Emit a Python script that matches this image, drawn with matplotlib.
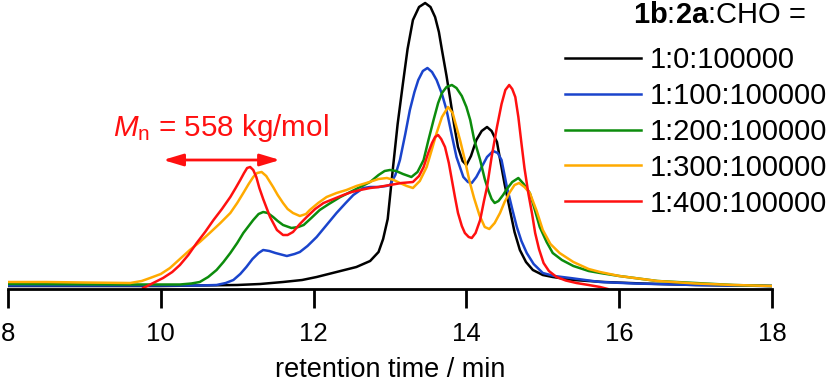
import matplotlib
matplotlib.use('Agg')
import matplotlib.pyplot as plt

plt.rcParams['font.family'] = ['Liberation Sans', 'DejaVu Sans']
plt.rcParams['mathtext.fontset'] = 'custom'
plt.rcParams['mathtext.rm'] = 'Liberation Sans'
plt.rcParams['mathtext.it'] = 'Liberation Sans:italic'
plt.rcParams['mathtext.bf'] = 'Liberation Sans:bold'

# GPC traces (intensity in arbitrary units)
labels = ['1:0:100000', '1:100:100000', '1:200:100000', '1:300:100000', '1:400:100000']
colors = ['#000000', '#1a44cc', '#0c8c0c', '#ffaa00', '#ff1010']

t_0 = [8.0, 9.0, 10.0, 10.5, 11.0, 11.3, 11.6, 11.85, 12.04, 12.3, 12.56, 12.74, 12.85, 12.91,
       12.97, 13.04, 13.1, 13.17, 13.23, 13.3, 13.38, 13.46, 13.53, 13.59, 13.64, 13.68, 13.74,
       13.79, 13.84, 13.89, 13.95, 14.0, 14.06, 14.13, 14.2, 14.27, 14.33, 14.4, 14.44, 14.5,
       14.57, 14.63, 14.7, 14.78, 14.87, 15.0, 15.13, 15.4, 15.8, 16.3, 17.0, 18.0]
i_0 = [3, 3, 3, 3.5, 4, 5, 7, 9, 12, 17, 22, 28, 37, 50,
       70, 122, 165, 206, 240, 269, 282, 286, 282, 272, 257, 239, 213,
       189, 164, 142, 128, 124, 133, 149, 158, 162, 158, 147, 130, 105,
       79, 57, 39, 27, 19, 14, 12, 9, 7, 5.5, 4, 3]

t_100 = [8.0, 9.5, 10.5, 10.73, 10.85, 10.95, 11.04, 11.12, 11.2, 11.28, 11.34, 11.42, 11.5,
         11.65, 11.75, 11.82, 11.92, 12.04, 12.17, 12.3, 12.42, 12.52, 12.65, 12.74, 12.85,
         12.95, 13.0, 13.07, 13.13, 13.2, 13.26, 13.32, 13.37, 13.43, 13.49, 13.55, 13.61,
         13.68, 13.74, 13.8, 13.87, 13.96, 14.02, 14.07, 14.13, 14.2, 14.27, 14.35, 14.41,
         14.46, 14.53, 14.6, 14.66, 14.72, 14.79, 14.88, 15.0, 15.15, 15.36, 15.75, 16.2,
         17.0, 18.0]
i_100 = [3.5, 3.5, 3.5, 4, 6, 9, 15, 22, 30, 36, 39, 38, 36,
         33, 35, 37, 43, 52, 64, 76, 86, 94, 101, 102, 102,
         103, 104, 114, 129, 155, 179, 197, 209, 218, 221, 217, 209,
         195, 179, 157, 132, 112, 107, 106, 112, 122, 132, 138, 136,
         129, 102, 80, 62, 48, 36, 25, 16, 13, 11, 7, 5.5,
         4, 3]

t_200 = [8.0, 9.5, 10.25, 10.4, 10.51, 10.62, 10.73, 10.82, 10.91, 11.0, 11.08, 11.15, 11.21,
         11.28, 11.34, 11.4, 11.47, 11.53, 11.6, 11.71, 11.8, 11.87, 11.97, 12.08, 12.2, 12.35,
         12.48, 12.61, 12.74, 12.85, 12.93, 13.0, 13.08, 13.17, 13.28, 13.36, 13.44, 13.5, 13.57,
         13.63, 13.68, 13.74, 13.81, 13.87, 13.94, 14.0, 14.05, 14.1, 14.18, 14.24, 14.29, 14.33,
         14.37, 14.42, 14.48, 14.53, 14.6, 14.68, 14.75, 14.83, 14.9, 14.96, 15.05, 15.13, 15.25,
         15.4, 15.6, 15.75, 16.0, 16.5, 17.0, 17.5, 18.0]
i_200 = [5, 4.5, 4.5, 5.5, 7, 12, 19, 27, 36, 46, 56, 63, 69,
         75, 77, 76, 72, 68, 64, 61, 62, 64, 71, 79, 85, 92,
         97, 102, 107, 114, 118, 119, 118, 115, 112, 117, 129, 148, 169,
         186, 196, 202, 204, 201, 193, 182, 169, 150, 129, 110, 98, 90,
         86, 88, 94, 100, 107, 111, 105, 96, 78, 62, 47, 36, 29,
         23, 18, 16, 13, 8, 6, 4, 3]

t_300 = [8.0, 8.5, 9.0, 9.6, 9.75, 9.86, 10.0, 10.12, 10.25, 10.38, 10.51, 10.64, 10.78, 10.91,
         11.0, 11.08, 11.15, 11.21, 11.26, 11.32, 11.38, 11.47, 11.53, 11.6, 11.66, 11.73, 11.82,
         11.9, 11.95, 12.06, 12.17, 12.3, 12.43, 12.56, 12.69, 12.85, 12.96, 13.05, 13.13, 13.22,
         13.3, 13.39, 13.48, 13.55, 13.61, 13.68, 13.76, 13.82, 13.87, 13.92, 13.98, 14.04, 14.1,
         14.17, 14.24, 14.3, 14.37, 14.44, 14.5, 14.57, 14.63, 14.69, 14.76, 14.83, 14.92, 15.0,
         15.1, 15.22, 15.4, 15.6, 15.75, 16.0, 16.5, 17.0, 17.5, 18.0]
i_300 = [7, 7, 6.5, 6, 8, 11, 15, 21, 30, 39, 47, 56, 66, 76,
         86, 96, 105, 112, 116, 117, 113, 102, 94, 86, 80, 76, 73,
         75, 79, 86, 92, 96, 99, 103, 106, 110, 111, 109, 106, 103,
         101, 108, 122, 140, 156, 172, 182, 176, 162, 148, 129, 108, 91,
         74, 62, 60, 66, 76, 87, 97, 104, 106, 102, 96, 78, 59,
         45, 36, 27, 20, 17, 13, 8, 5.5, 4, 3]

t_400 = [9.77, 9.9, 10.03, 10.15, 10.25, 10.36, 10.47, 10.58, 10.69, 10.8, 10.91, 10.98, 11.04,
         11.09, 11.13, 11.17, 11.21, 11.25, 11.29, 11.34, 11.43, 11.52, 11.6, 11.66, 11.73, 11.82,
         11.91, 12.02, 12.13, 12.26, 12.39, 12.5, 12.61, 12.74, 12.85, 13.0, 13.15, 13.3, 13.38,
         13.44, 13.5, 13.55, 13.59, 13.63, 13.67, 13.72, 13.77, 13.81, 13.85, 13.89, 13.94, 13.98,
         14.03, 14.07, 14.12, 14.18, 14.23, 14.27, 14.33, 14.4, 14.46, 14.51, 14.56, 14.6, 14.64,
         14.68, 14.72, 14.76, 14.81, 14.86, 14.9, 14.95, 15.01, 15.08, 15.18, 15.3, 15.44, 15.6,
         15.75, 15.85]
i_400 = [1, 6, 11, 17, 24, 34, 46, 57, 69, 80, 92, 101, 109,
         116, 121, 122, 119, 112, 101, 90, 72, 59, 54, 54, 57, 65,
         72, 80, 86, 90, 94, 97, 99, 101, 102, 104, 106, 107, 113,
         122, 136, 146, 152, 154, 150, 142, 126, 109, 92, 76, 63, 56,
         52, 51, 56, 69, 88, 102, 132, 162, 185, 199, 204, 200, 192,
         172, 146, 121, 96, 75, 56, 40, 26, 18, 12, 8.5, 6, 4,
         2, 0]

times = [t_0, t_100, t_200, t_300, t_400]
intensities = [i_0, i_100, i_200, i_300, i_400]

fig = plt.figure(figsize=(8.32, 3.85), dpi=100)
ax = fig.add_axes([8 / 832, 96 / 385, 764 / 832, 289 / 385])

for t, inten, c, lab in zip(times, intensities, colors, labels):
    ax.plot(t, inten, color=c, lw=1.8, label=lab, solid_joinstyle='round')

ax.set_xlim(8, 18)
ax.set_ylim(0, 289)
ax.set_xticks([8, 10, 12, 14, 16, 18])
ax.set_yticks([])
for side in ['left', 'right', 'top']:
    ax.spines[side].set_visible(False)
ax.spines['bottom'].set_linewidth(2.0)
ax.tick_params(axis='x', direction='out', length=14, width=2.0, pad=10, labelsize=18.5)
ax.set_xlabel('retention time / min', fontsize=19.5, labelpad=8)

# Mn annotation with double arrow
ax.annotate('', xy=(10.03, 129), xytext=(11.56, 129),
            arrowprops=dict(arrowstyle='<|-|>,head_length=0.6,head_width=0.18',
                            color='#ff1010', lw=2, mutation_scale=20,
                            shrinkA=0, shrinkB=0))
ax.text(10.79, 153, r'$M_\mathrm{n}$ = 558 kg/mol', color='#ff1010', fontsize=21.3,
        ha='center', va='baseline')

# legend with separate title
fig.text(633 / 832, 1 - 15 / 385, r'$\mathbf{1b}$:$\mathbf{2a}$:CHO =', fontsize=21,
         ha='left', va='center')
ax.legend(loc='upper left', bbox_to_anchor=(565 / 832, 1 - 46 / 385),
          bbox_transform=fig.transFigure, frameon=False, fontsize=21,
          handlelength=2.6, handletextpad=0.3, labelspacing=0.27,
          borderpad=0, borderaxespad=0)

fig.savefig('out.png', dpi=100)
